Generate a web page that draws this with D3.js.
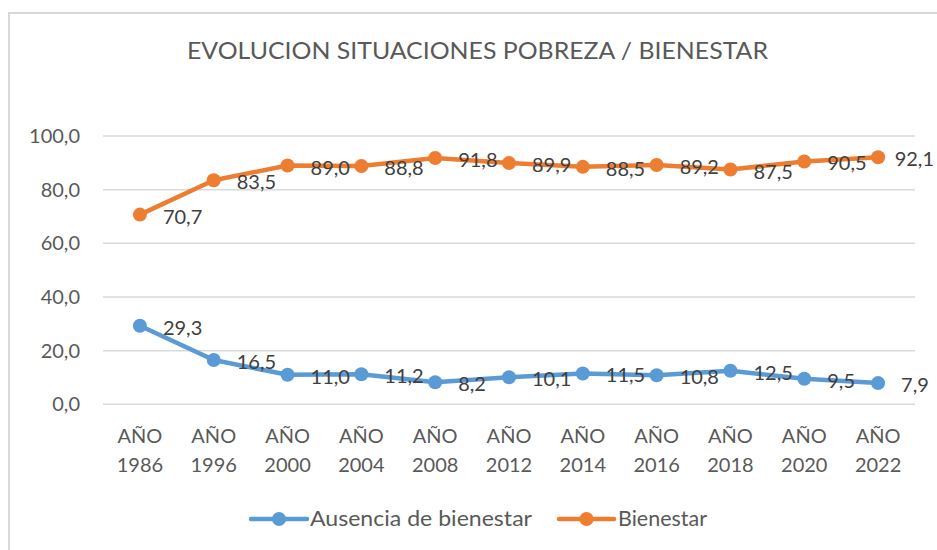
<!DOCTYPE html>
<html>
<head>
<meta charset="utf-8">
<script src="https://cdn.jsdelivr.net/npm/d3@7"></script>
<style>
  body { margin: 0; background: #fff; }
  svg { display: block; font-family: Lato, "Open Sans", sans-serif; }
</style>
</head>
<body>
<div id="chart"></div>
<script>
const years = ['1986', '1996', '2000', '2004', '2008', '2012', '2014', '2016', '2018', '2020', '2022'];
const ausencia = [29.3, 16.5, 11.0, 11.2, 8.2, 10.1, 11.5, 10.8, 12.5, 9.5, 7.9];
const bienestar = [70.7, 83.5, 89.0, 88.8, 91.8, 89.9, 88.5, 89.2, 87.5, 90.5, 92.1];
const yTicks = [0, 20, 40, 60, 80, 100];

const series = [
  { name: 'Ausencia de bienestar', values: ausencia, color: '#5B9BD5' },
  { name: 'Bienestar', values: bienestar, color: '#ED7D31' }
];

const W = 937, H = 550;
const margins = { top: 136, right: 22, bottom: 146, left: 103 };
const width = 915 - margins.left;
const height = 404.3 - margins.top;

const svg = d3.select('#chart').append('svg')
  .attr('width', W)
  .attr('height', H);

// chart frame
svg.append('rect')
  .attr('x', 9).attr('y', 13)
  .attr('width', W).attr('height', H)
  .attr('fill', 'none')
  .attr('stroke', '#D9D9D9')
  .attr('stroke-width', 2);

svg.append('text')
  .attr('x', 477.5)
  .attr('y', 59)
  .attr('text-anchor', 'middle')
  .attr('textLength', 581)
  .attr('lengthAdjust', 'spacingAndGlyphs')
  .style('font-size', '23px')
  .style('font-weight', 400)
  .style('fill', '#595959')
  .text('EVOLUCION SITUACIONES POBREZA / BIENESTAR');

const g = svg.append('g')
  .attr('transform', `translate(${margins.left},${margins.top})`);

const x = d3.scaleBand().domain(years).range([0, width]);
const y = d3.scaleLinear().domain([0, 100]).range([height, 0]);

// gridlines
g.append('g')
  .selectAll('line')
  .data(yTicks)
  .enter().append('line')
  .attr('x1', 0).attr('x2', width)
  .attr('y1', d => y(d)).attr('y2', d => y(d))
  .attr('stroke', '#D9D9D9')
  .attr('stroke-width', 1.5);

// y axis labels
const yAxis = g.append('g')
  .call(d3.axisLeft(y).tickValues(yTicks).tickSize(0).tickPadding(23)
    .tickFormat(d => d3.format('.1f')(d).replace('.', ',')));
yAxis.select('.domain').remove();
yAxis.selectAll('text')
  .style('font-family', 'Lato, sans-serif')
  .style('font-size', '20px')
  .style('fill', '#595959');

// x axis labels (two lines)
const xAxis = g.append('g')
  .attr('transform', `translate(0,${height})`)
  .call(d3.axisBottom(x).tickSize(0).tickFormat(''));
xAxis.select('.domain').remove();
xAxis.selectAll('.tick').append('text')
  .attr('text-anchor', 'middle')
  .style('font-family', 'Lato, sans-serif')
  .style('font-size', '20px')
  .style('fill', '#595959')
  .each(function (d) {
    const t = d3.select(this);
    t.append('tspan').attr('x', 0).attr('y', 39).text('AÑO');
    t.append('tspan').attr('x', 0).attr('y', 68).text(d);
  });

const cx = (d, i) => x(years[i]) + x.bandwidth() / 2;
const line = d3.line()
  .x((d, i) => cx(d, i))
  .y(d => y(d));

series.forEach(s => {
  g.append('path')
    .datum(s.values)
    .attr('fill', 'none')
    .attr('stroke', s.color)
    .attr('stroke-width', 4.5)
    .attr('stroke-linejoin', 'round')
    .attr('stroke-linecap', 'round')
    .attr('d', line);

  g.append('g').selectAll('circle')
    .data(s.values)
    .enter().append('circle')
    .attr('cx', cx)
    .attr('cy', d => y(d))
    .attr('r', 7)
    .attr('fill', s.color);

  g.append('g').selectAll('text')
    .data(s.values)
    .enter().append('text')
    .attr('x', (d, i) => cx(d, i) + 23)
    .attr('y', d => y(d) + 2)
    .attr('dy', '0.35em')
    .style('font-size', '20px')
    .style('fill', '#404040')
    .text(d => d3.format('.1f')(d).replace('.', ','))
    .each(function () {
      // keep the last labels inside the frame, like Excel does
      const el = d3.select(this);
      const right = margins.left + (+el.attr('x')) + this.getComputedTextLength();
      if (right > W - 3) el.attr('x', +el.attr('x') - (right - (W - 3)));
    });
});

// legend
const legendItems = [
  { s: series[0], x0: 251, x1: 307, tx: 310, len: 222 },
  { s: series[1], x0: 559, x1: 614, tx: 618, len: 89 }
];
const legend = svg.append('g').attr('transform', 'translate(0,519)');
legendItems.forEach(it => {
  legend.append('line')
    .attr('x1', it.x0).attr('x2', it.x1)
    .attr('y1', 0).attr('y2', 0)
    .attr('stroke', it.s.color)
    .attr('stroke-width', 4.5)
    .attr('stroke-linecap', 'round');
  legend.append('circle')
    .attr('cx', (it.x0 + it.x1) / 2)
    .attr('cy', 0)
    .attr('r', 7)
    .attr('fill', it.s.color);
  legend.append('text')
    .attr('x', it.tx)
    .attr('y', 0)
    .attr('dy', '0.35em')
    .attr('textLength', it.len)
    .attr('lengthAdjust', 'spacingAndGlyphs')
    .style('font-size', '21px')
    .style('fill', '#595959')
    .text(it.s.name);
});
</script>
</body>
</html>
